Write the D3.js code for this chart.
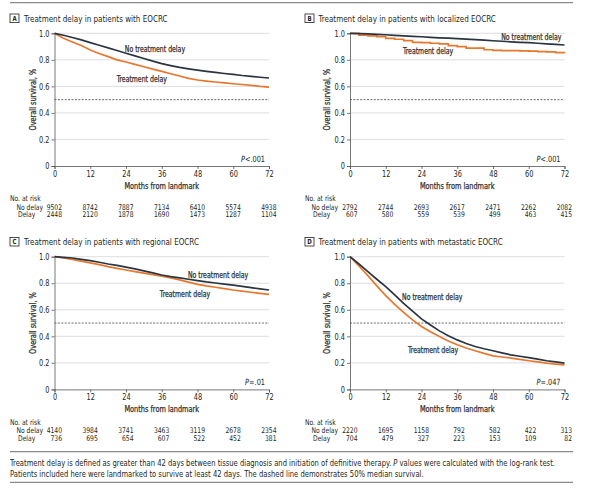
<!DOCTYPE html>
<html>
<head>
<meta charset="utf-8">
<script src="https://cdn.jsdelivr.net/npm/d3@7"></script>
<style>
body { margin: 0; background: #fff; }
svg { display: block; }
text { font-family: "DejaVu Sans Condensed", "Liberation Sans", sans-serif; fill: #231f20; }
</style>
</head>
<body>
<svg width="600" height="488"></svg>
<script>
// survival read every 3 months, 0..72
var months = [0, 3, 6, 9, 12, 15, 18, 21, 24, 27, 30, 33, 36, 39, 42, 45, 48, 51, 54, 57, 60, 63, 66, 69, 72];
var riskMonths = [0, 12, 24, 36, 48, 60, 72];
var yTicks = [0, 0.2, 0.4, 0.6, 0.8, 1.0];

var letters = ["A", "B", "C", "D"];
var titles = [
    "Treatment delay in patients with EOCRC",
    "Treatment delay in patients with localized EOCRC",
    "Treatment delay in patients with regional EOCRC",
    "Treatment delay in patients with metastatic EOCRC"
];
var pValues = ["<.001", "<.001", "=.01", "=.047"];

var noDelayA = [1.0, 0.985, 0.968, 0.95, 0.93, 0.91, 0.89, 0.87, 0.85, 0.83, 0.81, 0.79, 0.772, 0.757, 0.743, 0.732, 0.722, 0.713, 0.705, 0.697, 0.69, 0.682, 0.676, 0.669, 0.663];
var delayA   = [1.0, 0.962, 0.935, 0.908, 0.874, 0.848, 0.824, 0.8, 0.784, 0.766, 0.748, 0.73, 0.713, 0.695, 0.678, 0.66, 0.648, 0.64, 0.633, 0.627, 0.62, 0.614, 0.608, 0.6, 0.594];
var noDelayB = [1.0, 0.998, 0.995, 0.992, 0.989, 0.985, 0.981, 0.977, 0.974, 0.97, 0.966, 0.963, 0.96, 0.956, 0.952, 0.948, 0.944, 0.94, 0.936, 0.932, 0.929, 0.925, 0.92, 0.916, 0.912];
var delayB   = [1.0, 0.987, 0.98, 0.975, 0.962, 0.955, 0.945, 0.932, 0.93, 0.925, 0.92, 0.907, 0.9, 0.889, 0.889, 0.876, 0.871, 0.87, 0.869, 0.868, 0.866, 0.862, 0.86, 0.855, 0.851];
var noDelayC = [1.0, 0.995, 0.99, 0.98, 0.97, 0.958, 0.945, 0.935, 0.922, 0.908, 0.893, 0.878, 0.862, 0.85, 0.84, 0.83, 0.82, 0.81, 0.802, 0.794, 0.786, 0.777, 0.767, 0.758, 0.749];
var delayC   = [1.0, 0.99, 0.98, 0.967, 0.953, 0.94, 0.925, 0.912, 0.9, 0.888, 0.876, 0.865, 0.854, 0.84, 0.825, 0.808, 0.792, 0.78, 0.77, 0.76, 0.749, 0.74, 0.732, 0.724, 0.716];
var noDelayD = [1.0, 0.945, 0.887, 0.83, 0.774, 0.712, 0.649, 0.59, 0.531, 0.485, 0.441, 0.405, 0.373, 0.346, 0.323, 0.306, 0.291, 0.275, 0.26, 0.25, 0.24, 0.228, 0.216, 0.207, 0.198];
var delayD   = [1.0, 0.93, 0.857, 0.78, 0.707, 0.64, 0.581, 0.524, 0.474, 0.434, 0.398, 0.365, 0.336, 0.312, 0.291, 0.271, 0.253, 0.244, 0.236, 0.226, 0.216, 0.207, 0.198, 0.191, 0.185];

var riskNoDelay = [
    [9502, 8742, 7887, 7134, 6410, 5574, 4938],
    [2792, 2744, 2693, 2617, 2471, 2262, 2082],
    [4140, 3984, 3741, 3463, 3119, 2678, 2354],
    [2220, 1695, 1158, 792, 582, 422, 313]
];
var riskDelay = [
    [2448, 2120, 1878, 1690, 1473, 1287, 1104],
    [607, 580, 559, 539, 499, 463, 415],
    [736, 695, 654, 607, 522, 452, 381],
    [704, 479, 327, 223, 153, 109, 82]
];

// where the curve labels sit, in [month, survival]
var noDelayLabelAt = [[33.7, 0.88], [71, 0.967], [54.9, 0.857], [27.6, 0.692]];
var delayLabelAt = [[29.3, 0.653], [26.2, 0.866], [43.8, 0.719], [27.9, 0.298]];
var noDelayAnchor = ["middle", "end", "middle", "middle"];

var caption1 = ["Treatment delay is defined as greater than 42 days between tissue diagnosis and initiation of definitive therapy. ", "P", " values were calculated with the log-rank test."];
var caption2 = "Patients included here were landmarked to survive at least 42 days. The dashed line demonstrates 50% median survival.";

var series = [[noDelayA, delayA], [noDelayB, delayB], [noDelayC, delayC], [noDelayD, delayD]];

var PLOT_W = 214.5;
var PLOT_H = 132.7;
var ORIGINS = [[54.5, 33.3], [350, 33.3], [54.5, 256.7], [350, 256.7]];
var DARK = "#2b3542";
var ORANGE = "#e8772e";
var SQUEEZE = 0.86;   // the journal font is a condensed face

var svg = d3.select("svg");

function squeeze(node) {
    var w = node.getComputedTextLength() * SQUEEZE;
    node.setAttribute("textLength", w);
    node.setAttribute("lengthAdjust", "spacingAndGlyphs");
}

// one <text> with italic pieces, narrowed by a horizontal scale
function mixedLine(parent, x, y, parts, italic, size, anchor) {
    var t = parent.append("text")
        .attr("transform", "translate(" + x + "," + y + ") scale(" + SQUEEZE + ",1)")
        .attr("dy", "0.35em").attr("text-anchor", anchor)
        .attr("data-done", "1")
        .style("font-size", size);
    parts.forEach(function (p, k) {
        var s = t.append("tspan").text(p);
        if (italic[k]) s.style("font-style", "italic");
    });
    return t;
}

function semibold(sel) {
    sel.style("fill", "#333").style("stroke", "#333").style("stroke-width", 0.25);
}

// rules
[2.7, 451.7, 482.3].forEach(function (y) {
    svg.append("line")
        .attr("x1", 10).attr("x2", 573)
        .attr("y1", y).attr("y2", y)
        .style("stroke", "#8a8a8a").style("stroke-width", 1.2);
});

function drawPanel(i) {
    var ox = ORIGINS[i][0], oy = ORIGINS[i][1];
    var x = d3.scaleLinear().domain([0, 72]).range([0, PLOT_W]);
    var y = d3.scaleLinear().domain([0, 1]).range([PLOT_H, 0]);
    var g = svg.append("g").attr("transform", "translate(" + ox + "," + oy + ")");
    var left = ox < 200 ? 10 : 305;

    // letter box + title
    var tg = svg.append("g").attr("transform", "translate(" + left + "," + (oy - 19.3) + ")");
    tg.append("rect").attr("x", 0).attr("y", 0).attr("width", 9).attr("height", 8.6)
        .style("fill", "#fff").style("stroke", "#231f20").style("stroke-width", 0.8);
    tg.append("text").attr("x", 4.5).attr("y", 7.1).attr("text-anchor", "middle")
        .style("font-size", "7px").style("font-weight", "bold").text(letters[i]);
    tg.append("text").attr("x", i % 2 == 0 ? 14 : 13.5).attr("y", 7.6)
        .style("font-size", "9.3px").text(titles[i]);

    // grid
    g.selectAll(".grid").data(yTicks.slice(1)).enter().append("line")
        .attr("x1", 0).attr("x2", PLOT_W)
        .attr("y1", function (d) { return y(d); }).attr("y2", function (d) { return y(d); })
        .style("stroke", "#d6d6d6").style("stroke-width", 0.8);

    // median line
    g.append("line")
        .attr("x1", x(0)).attr("x2", x(72)).attr("y1", y(0.5)).attr("y2", y(0.5))
        .style("stroke", "#444").style("stroke-width", 0.8).style("stroke-dasharray", "2,1.4");

    // axes
    var yAxis = d3.axisLeft(y).tickValues(yTicks).tickSize(3).tickPadding(2)
        .tickFormat(function (d) { return d == 0 ? "0" : d3.format(".1f")(d); });
    var xAxis = d3.axisBottom(x).tickValues(riskMonths).tickSize(3).tickPadding(2);
    var ya = g.append("g").call(yAxis);
    var xa = g.append("g").attr("transform", "translate(0," + PLOT_H + ")").call(xAxis);
    [ya, xa].forEach(function (a) {
        a.select(".domain").style("stroke", "#555").style("stroke-width", 0.8);
        a.selectAll(".tick line").style("stroke", "#555").style("stroke-width", 0.8);
        a.selectAll("text").style("font-size", "8.5px").style("fill", "#231f20")
            .style("font-family", "\"DejaVu Sans Condensed\", \"Liberation Sans\", sans-serif");
    });

    // curves
    var line = d3.line()
        .x(function (d, j) { return x(months[j]); })
        .y(function (d) { return y(d); })
        .curve(i == 1 ? d3.curveStepAfter : d3.curveLinear);
    var noDelayLine = d3.line()
        .x(function (d, j) { return x(months[j]); })
        .y(function (d) { return y(d); });
    g.append("path").datum(series[i][1]).attr("d", line)
        .style("fill", "none").style("stroke", ORANGE).style("stroke-width", 1.7);
    g.append("path").datum(series[i][0]).attr("d", noDelayLine)
        .style("fill", "none").style("stroke", DARK).style("stroke-width", 1.7);

    // curve labels
    g.append("text")
        .attr("x", x(noDelayLabelAt[i][0])).attr("y", y(noDelayLabelAt[i][1]))
        .attr("dy", "0.35em").attr("text-anchor", noDelayAnchor[i])
        .style("font-size", "8px").call(semibold)
        .text("No treatment delay");
    g.append("text")
        .attr("x", x(delayLabelAt[i][0])).attr("y", y(delayLabelAt[i][1]))
        .attr("dy", "0.35em").attr("text-anchor", "middle")
        .style("font-size", "8px").call(semibold)
        .text("Treatment delay");

    // p value
    mixedLine(g, PLOT_W - 4, PLOT_H - 7.3, ["P", pValues[i]], [true, false], "8.5px", "end");

    // axis titles
    g.append("text")
        .attr("transform", "translate(" + (left - ox + (i % 2 == 0 ? 23.3 : 21.7)) + "," + (PLOT_H / 2) + ") rotate(-90)")
        .attr("text-anchor", "middle").attr("dy", "0.35em")
        .style("font-size", "8.5px").call(semibold)
        .text("Overall survival, %");
    g.append("text")
        .attr("x", PLOT_W / 2).attr("y", PLOT_H + 20).attr("dy", "0.35em")
        .attr("text-anchor", "middle")
        .style("font-size", "8.5px").call(semibold)
        .text("Months from landmark");

    // number at risk
    var rx = left - ox;
    g.append("text").attr("x", rx).attr("y", PLOT_H + 32.5).attr("dy", "0.35em")
        .style("font-size", "7.8px").text("No. at risk");
    g.append("text").attr("x", rx + 6.5).attr("y", PLOT_H + 40.8).attr("dy", "0.35em")
        .style("font-size", "7.8px").text("No delay");
    g.append("text").attr("x", rx + 8).attr("y", PLOT_H + 48.6).attr("dy", "0.35em")
        .style("font-size", "7.8px").text("Delay");
    g.selectAll(".rnd").data(riskNoDelay[i]).enter().append("text")
        .attr("x", function (d, j) { return x(riskMonths[j]) + 7.5; })
        .attr("y", PLOT_H + 40.8).attr("dy", "0.35em").attr("text-anchor", "end")
        .style("font-size", "7.8px").text(function (d) { return d; });
    g.selectAll(".rd").data(riskDelay[i]).enter().append("text")
        .attr("x", function (d, j) { return x(riskMonths[j]) + 7.5; })
        .attr("y", PLOT_H + 48.6).attr("dy", "0.35em").attr("text-anchor", "end")
        .style("font-size", "7.8px").text(function (d) { return d; });
}

for (var i = 0; i < 4; i++) drawPanel(i);

// caption
mixedLine(svg, 10, 463, caption1, [false, true, false], "8.8px", "start");
svg.append("text").attr("x", 10).attr("y", 473.5).attr("dy", "0.35em").style("font-size", "8.8px").text(caption2);

// narrow the remaining texts to imitate the condensed face
svg.selectAll("text").each(function () {
    if (!this.getAttribute("data-done")) squeeze(this);
});
</script>
</body>
</html>
